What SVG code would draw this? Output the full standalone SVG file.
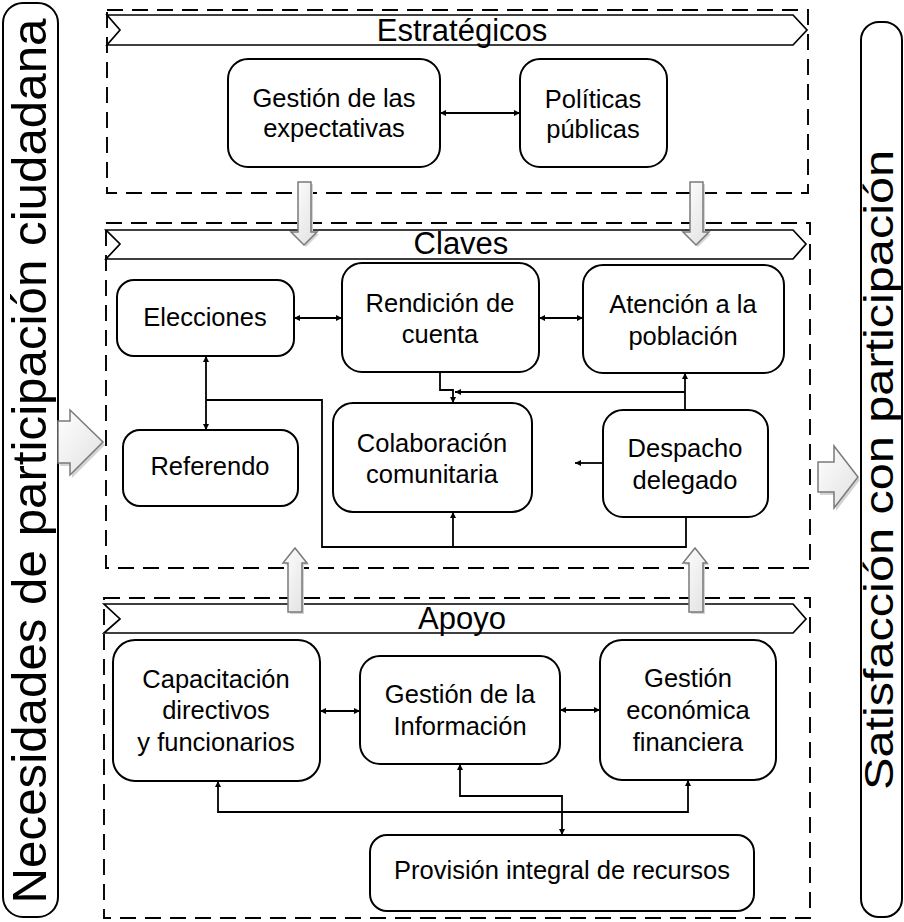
<svg xmlns="http://www.w3.org/2000/svg" width="904" height="922" viewBox="0 0 904 922">
<style>
.node{fill:#fff;stroke:#000;stroke-width:2}
.frame{fill:none;stroke:#000;stroke-width:1.9;stroke-dasharray:16,9}
.banner{fill:#fff;stroke:#000;stroke-width:1.7}
.t{font-family:"Liberation Sans",Arial,sans-serif;font-size:25.5px;fill:#000;text-anchor:middle}
.bt{font-family:"Liberation Sans",Arial,sans-serif;font-size:31px;fill:#000;text-anchor:middle}
.side{font-family:"Liberation Sans",Arial,sans-serif;fill:#000;text-anchor:middle}
.con{fill:none;stroke:#000;stroke-width:1.8}
.barrow{fill:url(#g);stroke:#7a7a7a;stroke-width:1.5}
.shadow{fill:#d4d4d4}
</style>
<defs>
<linearGradient id="g" x1="0" y1="0" x2="1" y2="1">
<stop offset="0" stop-color="#ffffff"/>
<stop offset="1" stop-color="#e0e0e0"/>
</linearGradient>
<marker id="ah" viewBox="0 0 10 10" refX="10" refY="5" markerWidth="7" markerHeight="6" orient="auto-start-reverse" markerUnits="userSpaceOnUse">
<path d="M0,0 L10,5 L0,10 z" fill="#000"/>
</marker>
</defs>

<!-- side panels -->
<g id="necesidades">
<rect x="3" y="3" width="55" height="914" rx="20" fill="#fff" stroke="#000" stroke-width="2"/>
<text class="side" font-size="48" transform="translate(46,461) rotate(-90)" textLength="885" lengthAdjust="spacingAndGlyphs">Necesidades de participación ciudadana</text>
</g>
<g id="satisfaccion">
<rect x="861" y="22" width="41" height="895" rx="18" fill="#fff" stroke="#000" stroke-width="2"/>
<text class="side" font-size="40" transform="translate(893,470) rotate(-90)" textLength="640" lengthAdjust="spacingAndGlyphs">Satisfacción con participación</text>
</g>

<!-- frames -->
<g id="estrategicos">
<rect class="frame" x="107" y="10" width="701" height="183"/>
<path class="banner" d="M107,15 H793 L807,30 L793,45 H107 L120,30 Z"/>
<text class="bt" x="462" y="41">Estratégicos</text>
</g>
<g id="claves">
<rect class="frame" x="106" y="223" width="704" height="345"/>
<path class="banner" d="M106,230 H793 L806,244 L793,259 H106 L120,244 Z"/>
<text class="bt" x="461" y="254">Claves</text>
</g>
<g id="apoyo">
<rect class="frame" x="104" y="598" width="706" height="320"/>
<path class="banner" d="M104,604 H793 L806,619 L793,633 H104 L120,619 Z"/>
<text class="bt" x="462" y="629">Apoyo</text>
</g>

<!-- block arrows -->
<g id="block-arrows">
<path class="shadow" d="M60,423 H72 V413 L105,445 L72,478 V466 H60 Z"/>
<path class="barrow" d="M58,421 H70 V410 L103,442 L70,475 V463 H58 Z"/>
<path class="shadow" d="M820,465 H836 V449 L860,480 L836,511 V495 H820 Z"/>
<path class="barrow" d="M818,462 H834 V446 L858,477 L834,508 V492 H818 Z"/>
<path class="shadow" d="M300,184 H313 V234 H319 L306,247 L293,234 H300 Z"/>
<path class="barrow" d="M298,182 H311 V232 H317 L304,245 L291,232 H298 Z"/>
<path class="shadow" d="M692,184 H705 V234 H711 L698,247 L685,234 H692 Z"/>
<path class="barrow" d="M690,182 H703 V232 H709 L696,245 L683,232 H690 Z"/>
<path class="shadow" d="M290,614 V565 H285 L297,550 L309,565 H304 V614 Z"/>
<path class="barrow" d="M288,612 V563 H283 L295,548 L307,563 H302 V612 Z"/>
<path class="shadow" d="M691,614 V565 H685 L697,550 L709,565 H705 V614 Z"/>
<path class="barrow" d="M689,612 V563 H683 L695,548 L707,563 H703 V612 Z"/>
</g>

<!-- nodes -->
<g id="n-gestion-expectativas">
<rect class="node" x="228" y="59" width="212" height="108" rx="20"/>
<text class="t" x="334" y="107">Gestión de las</text>
<text class="t" x="334" y="137">expectativas</text>
</g>
<g id="n-politicas">
<rect class="node" x="520" y="59" width="147" height="108" rx="20"/>
<text class="t" x="593" y="108">Políticas</text>
<text class="t" x="593" y="138">públicas</text>
</g>
<g id="n-elecciones">
<rect class="node" x="117" y="280" width="177" height="76" rx="17"/>
<text class="t" x="205" y="326">Elecciones</text>
</g>
<g id="n-rendicion">
<rect class="node" x="342" y="263" width="197" height="109" rx="20"/>
<text class="t" x="440" y="312">Rendición de</text>
<text class="t" x="440" y="343">cuenta</text>
</g>
<g id="n-atencion">
<rect class="node" x="583" y="265" width="201" height="108" rx="20"/>
<text class="t" x="683" y="313">Atención a la</text>
<text class="t" x="683" y="345">población</text>
</g>
<g id="n-referendo">
<rect class="node" x="123" y="430" width="175" height="76" rx="17"/>
<text class="t" x="210" y="475">Referendo</text>
</g>
<g id="n-colaboracion">
<rect class="node" x="333" y="403" width="199" height="109" rx="20"/>
<text class="t" x="432" y="452">Colaboración</text>
<text class="t" x="432" y="483">comunitaria</text>
</g>
<g id="n-despacho">
<rect class="node" x="603" y="410" width="165" height="107" rx="20"/>
<text class="t" x="685" y="457">Despacho</text>
<text class="t" x="685" y="489">delegado</text>
</g>
<g id="n-capacitacion">
<rect class="node" x="113" y="640" width="207" height="141" rx="22"/>
<text class="t" x="216" y="688">Capacitación</text>
<text class="t" x="216" y="719">directivos</text>
<text class="t" x="216" y="751">y funcionarios</text>
</g>
<g id="n-gestion-informacion">
<rect class="node" x="360" y="656" width="200" height="108" rx="20"/>
<text class="t" x="460" y="703">Gestión de la</text>
<text class="t" x="460" y="735">Información</text>
</g>
<g id="n-gestion-economica">
<rect class="node" x="600" y="640" width="176" height="140" rx="22"/>
<text class="t" x="688" y="687">Gestión</text>
<text class="t" x="688" y="719">económica</text>
<text class="t" x="688" y="751">financiera</text>
</g>
<g id="n-provision">
<rect class="node" x="370" y="835" width="384" height="76" rx="17"/>
<text class="t" x="562" y="879">Provisión integral de recursos</text>
</g>

<!-- connectors -->
<g id="connectors">
<path class="con" d="M440,113 H520" marker-start="url(#ah)" marker-end="url(#ah)"/>
<path class="con" d="M294,318 H342" marker-start="url(#ah)" marker-end="url(#ah)"/>
<path class="con" d="M539,318 H583" marker-start="url(#ah)" marker-end="url(#ah)"/>
<path class="con" d="M206,356 V430" marker-start="url(#ah)" marker-end="url(#ah)"/>
<path class="con" d="M206,400 H322 V547 H686 V517"/>
<path class="con" d="M453,547 V512" marker-end="url(#ah)"/>
<path class="con" d="M440,372 V390 H453 V403" marker-end="url(#ah)"/>
<path class="con" d="M685,410 V373" marker-end="url(#ah)"/>
<path class="con" d="M685,392 H455" marker-end="url(#ah)"/>
<path class="con" d="M603,463 H575" marker-end="url(#ah)"/>
<path class="con" d="M320,711 H360" marker-start="url(#ah)" marker-end="url(#ah)"/>
<path class="con" d="M560,710 H600" marker-start="url(#ah)" marker-end="url(#ah)"/>
<path class="con" d="M218,781 V812 H688 V780" marker-start="url(#ah)" marker-end="url(#ah)"/>
<path class="con" d="M460,764 V796 H562 V835" marker-start="url(#ah)" marker-end="url(#ah)"/>
</g>
</svg>
